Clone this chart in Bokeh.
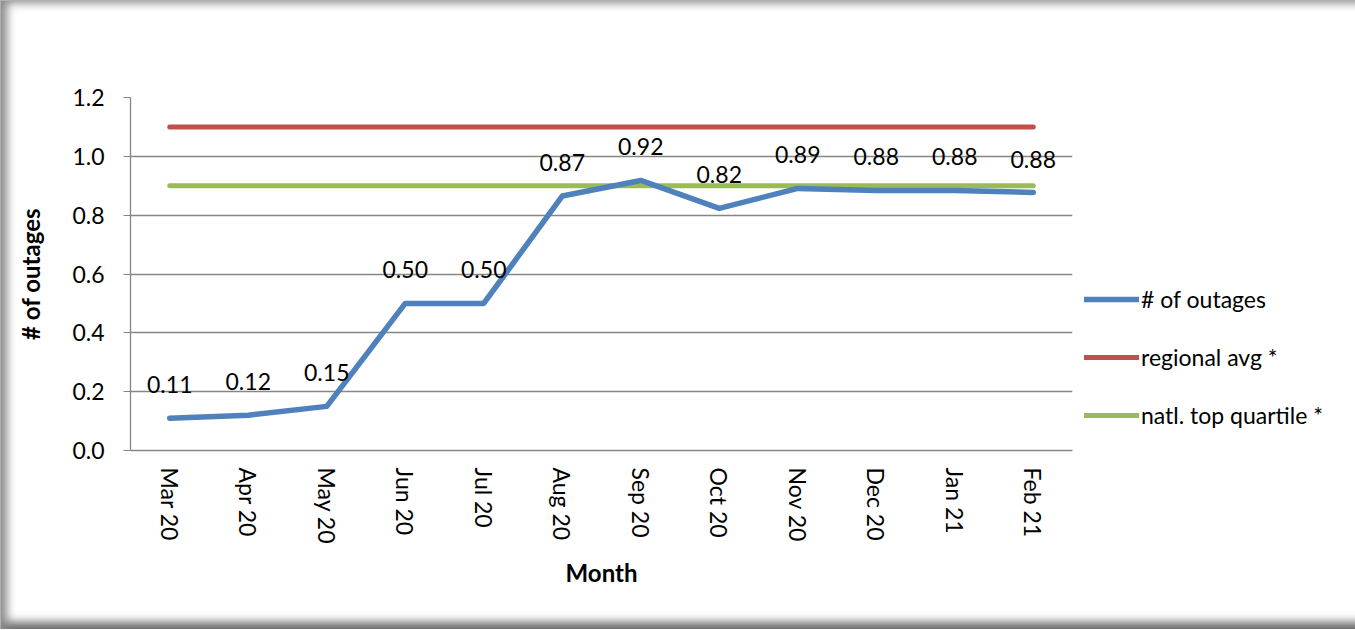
from bokeh.plotting import figure
from bokeh.models import (Range1d, FixedTicker, Legend, LegendItem, ColumnDataSource,
                          NumeralTickFormatter)
from bokeh.core.properties import value
from bokeh.embed import file_html
from bokeh.resources import INLINE
import math

months = ["Mar 20", "Apr 20", "May 20", "Jun 20", "Jul 20", "Aug 20",
          "Sep 20", "Oct 20", "Nov 20", "Dec 20", "Jan 21", "Feb 21"]
outages = [0.11, 0.12, 0.15, 0.50, 0.50, 0.865, 0.918, 0.823, 0.891, 0.884, 0.884, 0.877]
outage_labels = ["0.11", "0.12", "0.15", "0.50", "0.50", "0.87",
                 "0.92", "0.82", "0.89", "0.88", "0.88", "0.88"]
regional_avg = [1.1] * 12
natl_top_quartile = [0.9] * 12
y_ticks = [0.0, 0.2, 0.4, 0.6, 0.8, 1.0, 1.2]

FONT = "Lato"
FS = "23px"
TFS = "24px"
GRID = "#868686"

p = figure(x_range=months, y_range=Range1d(0, 1.2),
           frame_width=942, frame_height=353,
           min_border_left=129, min_border_right=282,
           min_border_top=96, min_border_bottom=179,
           output_backend="svg", toolbar_location=None)

p.border_fill_color = None
p.background_fill_color = None
p.outline_line_color = None
p.styles = {
    "background-color": "white",
    "box-shadow": "inset 12px 8px 10px -6px #8a8a8a, inset -6px -12px 10px -5px #6a6a6a",
    "border-left": "1px solid #b0b0b0",
    "border-top": "1px solid #b0b0b0",
}

p.x_range.range_padding = 0

# grid
p.xgrid.grid_line_color = None
p.ygrid.grid_line_color = GRID
p.ygrid.grid_line_width = 1.3

# y axis
p.yaxis.ticker = FixedTicker(ticks=y_ticks)
p.yaxis.formatter = NumeralTickFormatter(format="0.0")
p.yaxis.axis_line_color = GRID
p.yaxis.axis_line_width = 1.3
p.yaxis.major_tick_line_color = GRID
p.yaxis.major_tick_in = 0
p.yaxis.major_tick_out = 7
p.yaxis.minor_tick_line_color = None
p.yaxis.major_label_standoff = 19
p.yaxis.major_label_text_font = FONT
p.yaxis.major_label_text_font_size = FS
p.yaxis.major_label_text_color = "black"
p.yaxis.axis_label = "# of outages"
p.yaxis.axis_label_text_font = FONT
p.yaxis.axis_label_text_font_size = TFS
p.yaxis.axis_label_text_font_style = "bold"
p.yaxis.axis_label_text_color = "black"
p.yaxis.axis_label_standoff = 24

# x axis
p.xaxis.axis_line_color = GRID
p.xaxis.axis_line_width = 1.3
p.xaxis.major_tick_line_color = None
p.xaxis.minor_tick_line_color = None
p.xaxis.major_label_orientation = -math.pi / 2
p.xaxis.major_label_standoff = 11
p.xaxis.major_label_text_font = FONT
p.xaxis.major_label_text_font_size = FS
p.xaxis.major_label_text_color = "black"
p.xaxis.axis_label = "Month"
p.xaxis.axis_label_text_font = FONT
p.xaxis.axis_label_text_font_size = TFS
p.xaxis.axis_label_text_font_style = "bold"
p.xaxis.axis_label_text_color = "black"
p.xaxis.axis_label_standoff = 11

src = ColumnDataSource(dict(month=months, outages=outages, labels=outage_labels,
                            regional=regional_avg, natl=natl_top_quartile))

r_reg = p.line("month", "regional", source=src, line_color="#C0504D",
               line_width=5, line_cap="round")
r_nat = p.line("month", "natl", source=src, line_color="#9BBB59",
               line_width=5, line_cap="round")
r_out = p.line("month", "outages", source=src, line_color="#4F81BD",
               line_width=5.5, line_cap="round", line_join="round")

p.text("month", "outages", text="labels", source=src,
       text_align="center", text_baseline="bottom", y_offset=-25,
       text_font=value(FONT), text_font_size=FS, text_color="black")

legend = Legend(items=[LegendItem(label="# of outages", renderers=[r_out]),
                       LegendItem(label="regional avg *", renderers=[r_reg]),
                       LegendItem(label="natl. top quartile *", renderers=[r_nat])],
                location=(12, 21), orientation="vertical",
                glyph_width=55, glyph_height=28, label_height=28,
                spacing=30, label_standoff=2, padding=0, margin=0,
                border_line_color=None, background_fill_alpha=0,
                label_text_font=FONT, label_text_font_size=FS,
                label_text_color="black")
p.add_layout(legend, "right")

open("out.html", "w").write(file_html(p, INLINE))
